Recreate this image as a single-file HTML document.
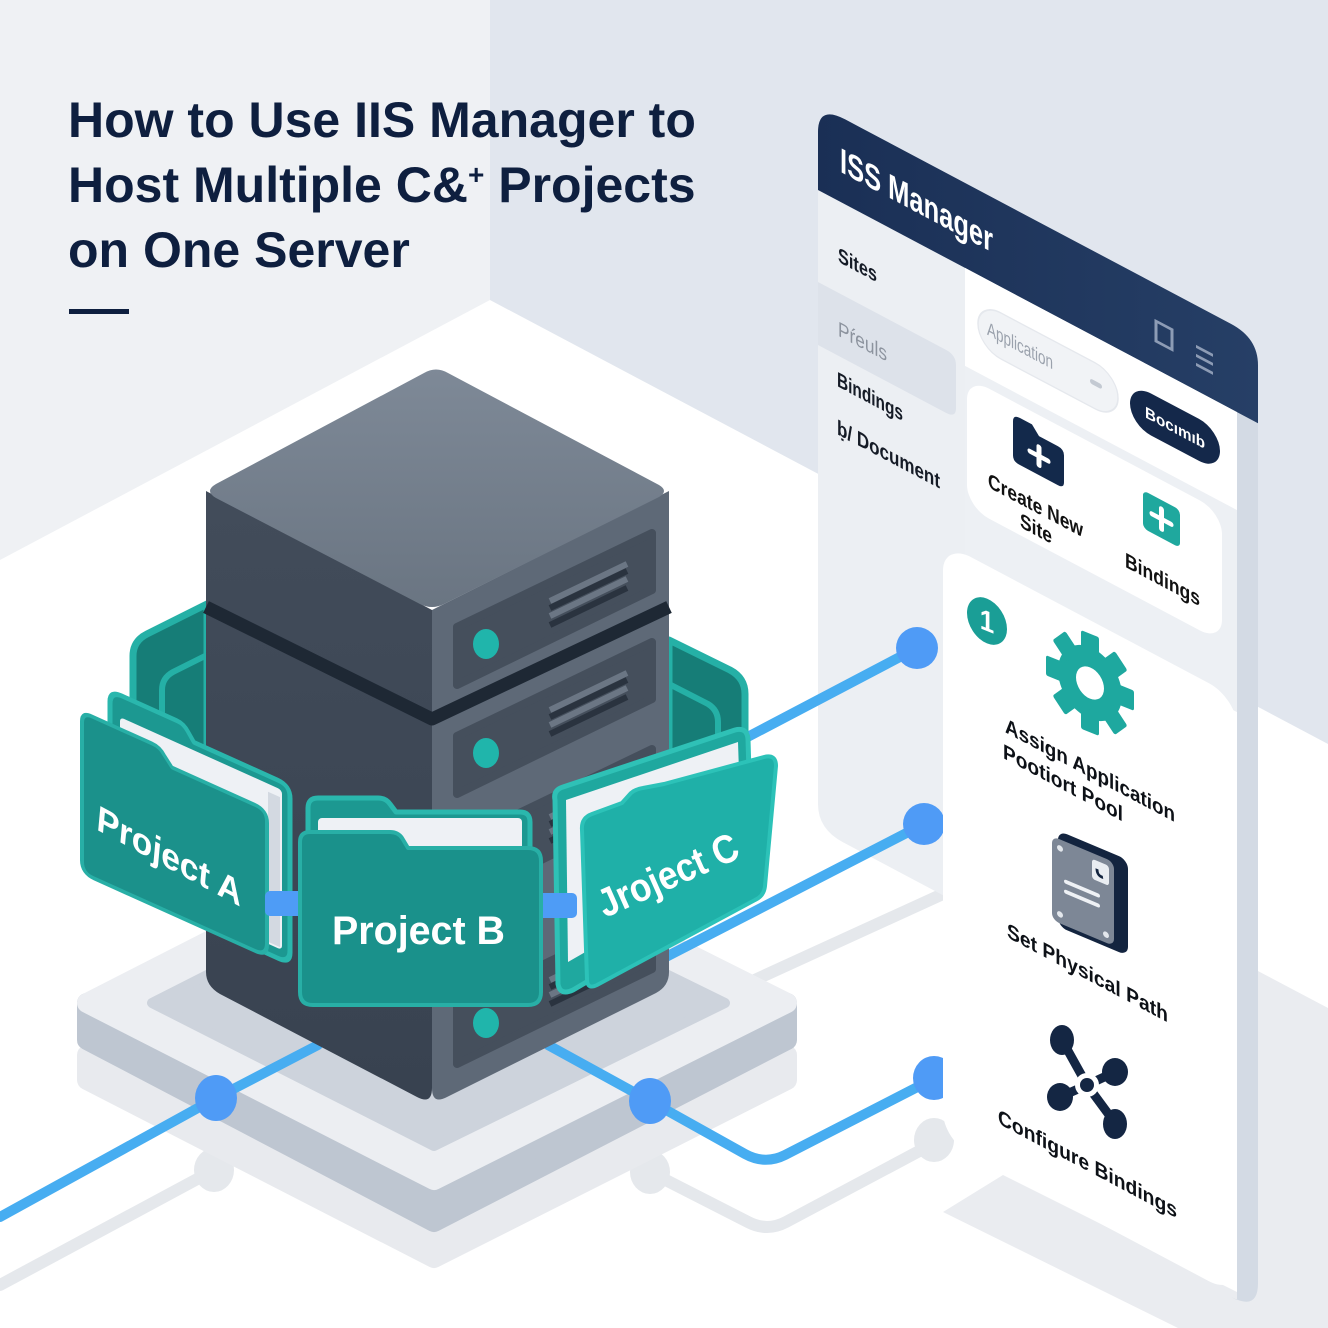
<!DOCTYPE html>
<html>
<head>
<meta charset="utf-8">
<style>
html,body{margin:0;padding:0;background:#fff;}
svg{display:block;}
</style>
</head>
<body>
<svg width="1328" height="1328" viewBox="0 0 1328 1328" xmlns="http://www.w3.org/2000/svg" font-family="'Liberation Sans', Arial, sans-serif">
<defs>
  <linearGradient id="hdr" x1="0" y1="0" x2="1" y2="0">
    <stop offset="0" stop-color="#1a2f55"/>
    <stop offset="1" stop-color="#263f66"/>
  </linearGradient>
  <linearGradient id="stop" x1="0" y1="0" x2="0" y2="1">
    <stop offset="0" stop-color="#7e8997"/>
    <stop offset="1" stop-color="#6a7582"/>
  </linearGradient>
  <linearGradient id="lface" x1="0" y1="0" x2="0" y2="1">
    <stop offset="0" stop-color="#424c5a"/>
    <stop offset="1" stop-color="#384250"/>
  </linearGradient>
</defs>

<!-- background walls & floor -->
<rect width="1328" height="1328" fill="#eff1f4"/>
<rect x="490" y="0" width="838" height="760" fill="#e1e6ee"/>
<polygon points="0,560 490,300 1328,744 1328,1328 0,1328" fill="#ffffff"/>
<!-- lower-right panel shadow -->
<polygon points="1237,960 1328,1008 1328,1328 1178,1328 943,1212 1003,1175 1237,1292" fill="#eaecf0"/>

<!-- line shadows -->
<g stroke="#e5e8ec" stroke-width="12" fill="none" stroke-linecap="round" stroke-linejoin="round">
  <path d="M0,1285 L214,1170 L330,1108"/>
  <path d="M560,1118 L650,1172 L748,1222 Q767,1232 786,1222 L940,1140"/>
  <path d="M700,1005 L945,893"/>
</g>
<g fill="#e5e8ec">
  <ellipse cx="214" cy="1170" rx="20" ry="22"/>
  <ellipse cx="650" cy="1172" rx="20" ry="22"/>
  <ellipse cx="934" cy="1140" rx="20" ry="22"/>
</g>

<!-- platform -->
<polygon points="87,1055 434,876 787,1055 787,1080 434,1258 87,1080" fill="#e8eaee" stroke="#e8eaee" stroke-width="20" stroke-linejoin="round"/>
<polygon points="87,1003 434,1182 787,1003 787,1040 434,1222 87,1040" fill="#bec6d1" stroke="#bec6d1" stroke-width="20" stroke-linejoin="round"/>
<polygon points="87,1003 434,826 787,1003 434,1180" fill="#eceef2" stroke="#eceef2" stroke-width="20" stroke-linejoin="round"/>
<polygon points="152,1003 434,860 725,1003 434,1146" fill="#cdd3dc" stroke="#cdd3dc" stroke-width="10" stroke-linejoin="round"/>

<!-- PANEL part 1 -->
<g transform="matrix(1,0.53,0,1,818,0)">
  <!-- header -->
  <path d="M0,132 Q0,105 27,105 L413,105 Q440,105 440,132 L440,192 L0,192 Z" fill="url(#hdr)"/>
  <text x="22" y="160" font-size="35" font-weight="bold" fill="#ffffff" textLength="153" lengthAdjust="spacingAndGlyphs">ISS Manager</text>
  <rect x="338" y="142" width="16" height="20" fill="none" stroke="#8d9cb5" stroke-width="3"/>
  <g stroke="#8d9cb5" stroke-width="3">
    <line x1="378" y1="146" x2="395" y2="146"/>
    <line x1="378" y1="155" x2="395" y2="155"/>
    <line x1="378" y1="164" x2="395" y2="164"/>
  </g>
  <!-- sidebar -->
  <path d="M0,190 L147,190 L147,829 L25,829 Q0,829 0,804 Z" fill="#eceff3"/>
  <path d="M0,282 L128,282 Q138,282 138,292 L138,335 Q138,345 128,345 L0,345 Z" fill="#dde2ea"/>
  <text x="20" y="251" font-size="21" font-weight="bold" fill="#151b26" textLength="39" lengthAdjust="spacingAndGlyphs">Sites</text>
  <text x="20" y="325" font-size="21" fill="#8c939e" textLength="49" lengthAdjust="spacingAndGlyphs">Pŕeuls</text>
  <text x="19" y="376" font-size="21" font-weight="bold" fill="#151b26" textLength="66" lengthAdjust="spacingAndGlyphs">Bindings</text>
  <text x="19" y="424" font-size="21" font-weight="bold" fill="#151b26" textLength="103" lengthAdjust="spacingAndGlyphs">ḅ/ Document</text>
  <!-- main area -->
  <rect x="147" y="190" width="272" height="300" fill="#edf0f4"/>
  <rect x="147" y="190" width="272" height="98" fill="#ffffff"/>
  <rect x="160" y="216" width="140" height="46" rx="23" fill="#f1f3f6" stroke="#e5e8ed" stroke-width="1.5"/>
  <text x="169" y="245" font-size="19" fill="#9aa1ac" textLength="66" lengthAdjust="spacingAndGlyphs">Application</text>
  <rect x="272" y="234" width="12" height="5" rx="2.5" fill="#c3c9d2"/>
  <rect x="312" y="217" width="90" height="42" rx="21" fill="#14284a"/>
  <text x="357" y="244" font-size="16" font-weight="bold" fill="#ffffff" text-anchor="middle" textLength="60" lengthAdjust="spacingAndGlyphs">Bocımıb</text>
  <!-- card 1 -->
  <rect x="149" y="298" width="255" height="130" rx="22" fill="#ffffff"/>
  <path d="M195,318 Q195,311 202,311 L214,311 L221,319 L240,319 Q246,319 246,325 L246,352 Q246,358 240,358 L201,358 Q195,358 195,352 Z" fill="#13294b"/>
  <g stroke="#ffffff" stroke-width="5" stroke-linecap="round">
    <line x1="212" y1="339" x2="230" y2="339"/>
    <line x1="221" y1="330" x2="221" y2="348"/>
  </g>
  <text x="170" y="397" font-size="21" font-weight="bold" fill="#111111" textLength="95" lengthAdjust="spacingAndGlyphs">Create New</text>
  <text x="202" y="420" font-size="21" font-weight="bold" fill="#111111" textLength="32" lengthAdjust="spacingAndGlyphs">Site</text>
  <rect x="325" y="318" width="37" height="38" rx="5" fill="#1fa89e"/>
  <g stroke="#ffffff" stroke-width="5" stroke-linecap="round">
    <line x1="334" y1="337" x2="353" y2="337"/>
    <line x1="343.5" y1="327" x2="343.5" y2="347"/>
  </g>
  <text x="307" y="404" font-size="21" font-weight="bold" fill="#111111" textLength="75" lengthAdjust="spacingAndGlyphs">Bindings</text>
</g>

<!-- blue lines -->
<g stroke="#47adf1" stroke-width="10" fill="none" stroke-linecap="round" stroke-linejoin="round">
  <path d="M0,1217 L216,1098 L318,1045"/>
  <path d="M548,1045 L650,1101 L745,1154 Q765,1165 785,1155 L935,1078"/>
  <path d="M700,762 L917,648"/>
  <path d="M660,960 L924,824"/>
</g>
<g fill="#4f9bf6">
  <ellipse cx="216" cy="1098" rx="21" ry="23"/>
  <ellipse cx="650" cy="1101" rx="21" ry="23"/>
  <ellipse cx="917" cy="648" rx="21" ry="21"/>
  <ellipse cx="924" cy="824" rx="21" ry="21"/>
  <ellipse cx="934" cy="1078" rx="21" ry="22"/>
</g>

<!-- PANEL part 2 -->
<g transform="matrix(1,0.53,0,1,818,0)">
  <path d="M419,190 L440,190 L440,1050 Q440,1078 413,1078 L419,1078 Z" fill="#d3dae4"/>
  <rect x="125" y="476" width="294" height="598" rx="28" fill="#ffffff"/>
  <text x="187" y="633" font-size="21" font-weight="bold" fill="#0d1117" textLength="170" lengthAdjust="spacingAndGlyphs">Assign Application</text>
  <text x="185" y="660" font-size="21" font-weight="bold" fill="#0d1117" textLength="120" lengthAdjust="spacingAndGlyphs">Pootiort  Pool</text>
  <text x="189" y="837" font-size="21" font-weight="bold" fill="#0d1117" textLength="161" lengthAdjust="spacingAndGlyphs">Set Physical Path</text>
  <text x="180" y="1028" font-size="21" font-weight="bold" fill="#0d1117" textLength="179" lengthAdjust="spacingAndGlyphs">Configure Bindings</text>
</g>

<!-- badge 1 -->
<g transform="translate(987,621) skewY(22) scale(1,1.12)">
  <circle cx="0" cy="0" r="20" fill="#1a9e96"/>
  <text x="0" y="9" font-size="26" font-weight="bold" fill="#ffffff" text-anchor="middle">1</text>
</g>

<!-- gear -->
<g transform="translate(1090,683) skewY(22) scale(1,1.12)" fill="#1ea89f">
  <circle cx="0" cy="0" r="32"/>
  <rect x="-9" y="-44" width="18" height="20" rx="2"/>
  <rect x="-9" y="-44" width="18" height="20" rx="2" transform="rotate(45)"/>
  <rect x="-9" y="-44" width="18" height="20" rx="2" transform="rotate(90)"/>
  <rect x="-9" y="-44" width="18" height="20" rx="2" transform="rotate(135)"/>
  <rect x="-9" y="-44" width="18" height="20" rx="2" transform="rotate(180)"/>
  <rect x="-9" y="-44" width="18" height="20" rx="2" transform="rotate(225)"/>
  <rect x="-9" y="-44" width="18" height="20" rx="2" transform="rotate(270)"/>
  <rect x="-9" y="-44" width="18" height="20" rx="2" transform="rotate(315)"/>
  <circle cx="0" cy="0" r="14" fill="#ffffff"/>
</g>

<!-- drive/doc icon -->
<g transform="matrix(1,0.42,0,1,1052,836)">
  <rect x="6" y="-8" width="70" height="96" rx="9" fill="#13243f"/>
  <rect x="0" y="0" width="62" height="84" rx="7" fill="#7d8796"/>
  <circle cx="8" cy="9" r="3" fill="#e3e7ec"/>
  <circle cx="8" cy="75" r="3" fill="#e3e7ec"/>
  <circle cx="54" cy="76" r="3" fill="#e3e7ec"/>
  <rect x="40" y="6" width="17" height="20" rx="3" fill="#e9edf2"/>
  <path d="M45,14 Q45,21 51,20" stroke="#13243f" stroke-width="3" fill="none"/>
  <line x1="14" y1="40" x2="46" y2="40" stroke="#eef1f5" stroke-width="4" stroke-linecap="round"/>
  <line x1="14" y1="50" x2="46" y2="50" stroke="#eef1f5" stroke-width="4" stroke-linecap="round"/>
</g>

<!-- network icon -->
<g fill="#142643" stroke="#142643">
  <g stroke-width="9" stroke-linecap="round">
    <line x1="1087" y1="1085" x2="1062" y2="1040"/>
    <line x1="1087" y1="1085" x2="1115" y2="1072"/>
    <line x1="1087" y1="1085" x2="1060" y2="1097"/>
    <line x1="1087" y1="1085" x2="1115" y2="1123"/>
  </g>
  <ellipse cx="1062" cy="1040" rx="12" ry="15" stroke="none"/>
  <ellipse cx="1115" cy="1072" rx="13" ry="14" stroke="none"/>
  <ellipse cx="1060" cy="1097" rx="13" ry="14" stroke="none"/>
  <ellipse cx="1115" cy="1124" rx="12" ry="15" stroke="none"/>
  <circle cx="1087" cy="1085" r="12" fill="#ffffff" stroke="none"/>
  <circle cx="1087" cy="1085" r="7" stroke="none"/>
</g>

<!-- back wraps -->
<path d="M133,764 L133,656 Q133,641 147,634 L207,604 L207,764 Z" fill="#167d77" stroke="#25b0a6" stroke-width="7" stroke-linejoin="round"/>
<path d="M162,764 L162,690 Q162,678 173,672 L207,655" stroke="#25b0a6" stroke-width="6" fill="none"/>
<path d="M669,640 L730,670 Q745,678 745,694 L745,766 L669,766 Z" fill="#167d77" stroke="#25b0a6" stroke-width="7" stroke-linejoin="round"/>
<path d="M669,684 L708,704 Q718,710 718,722 L718,766" stroke="#25b0a6" stroke-width="6" fill="none"/>

<!-- SERVER -->
<path d="M206,491 L432,610 L432,1088 Q432,1105 417,1097 L220,994 Q206,986 206,972 Z" fill="url(#lface)"/>
<path d="M432,610 L669,491 L669,972 Q669,986 656,993 L447,1097 Q432,1105 432,1088 Z" fill="#5e6977"/>
<path d="M216,484 L424,373 Q436,366 448,373 L659,485 Q669,491 659,497 L444,604 Q432,610 420,604 L216,498 Q204,491 216,484 Z" fill="url(#stop)"/>
<polyline points="206,607 432,719 669,607" fill="none" stroke="#1e2834" stroke-width="13" stroke-linejoin="round"/>

<!-- bays -->
<g>
  <polygon points="457,627 652,533 652,590 457,685" fill="#454f5c" stroke="#454f5c" stroke-width="8" stroke-linejoin="round"/>
  <polygon points="457,736 652,642 652,699 457,794" fill="#454f5c" stroke="#454f5c" stroke-width="8" stroke-linejoin="round"/>
  <polygon points="457,843 652,749 652,806 457,901" fill="#454f5c" stroke="#454f5c" stroke-width="8" stroke-linejoin="round"/>
  <polygon points="457,1006 652,912 652,969 457,1064" fill="#454f5c" stroke="#454f5c" stroke-width="8" stroke-linejoin="round"/>
</g>
<g stroke-width="6">
  <line x1="550" y1="601" x2="627" y2="564" stroke="#6b7684"/>
  <line x1="550" y1="608" x2="627" y2="571" stroke="#2a333f"/>
  <line x1="550" y1="616" x2="627" y2="579" stroke="#6b7684"/>
  <line x1="550" y1="625" x2="627" y2="588" stroke="#2a333f"/>

  <line x1="550" y1="710" x2="627" y2="673" stroke="#6b7684"/>
  <line x1="550" y1="717" x2="627" y2="680" stroke="#2a333f"/>
  <line x1="550" y1="725" x2="627" y2="688" stroke="#6b7684"/>
  <line x1="550" y1="734" x2="627" y2="697" stroke="#2a333f"/>

  <line x1="550" y1="817" x2="627" y2="780" stroke="#6b7684"/>
  <line x1="550" y1="824" x2="627" y2="787" stroke="#2a333f"/>
  <line x1="550" y1="832" x2="627" y2="795" stroke="#6b7684"/>
  <line x1="550" y1="841" x2="627" y2="804" stroke="#2a333f"/>

  <line x1="550" y1="980" x2="627" y2="943" stroke="#6b7684"/>
  <line x1="550" y1="987" x2="627" y2="950" stroke="#2a333f"/>
  <line x1="550" y1="995" x2="627" y2="958" stroke="#6b7684"/>
  <line x1="550" y1="1004" x2="627" y2="967" stroke="#2a333f"/>
</g>
<g fill="#20b5ab">
  <ellipse cx="486" cy="644" rx="13" ry="15"/>
  <ellipse cx="486" cy="753" rx="13" ry="15"/>
  <ellipse cx="486" cy="860" rx="13" ry="15"/>
  <ellipse cx="486" cy="1023" rx="13" ry="15"/>
</g>

<!-- PROJECT A -->
<g transform="matrix(1,0.45,0,1,82,718)">
  <path d="M28,-28 Q28,-40 40,-40 L95,-40 Q102,-40 106,-34 L112,-26 L196,-26 Q208,-26 208,-14 L208,140 Q208,152 196,152 L40,152 Q28,152 28,140 Z" fill="#1c9891" stroke="#2ab7ad" stroke-width="5" stroke-linejoin="round"/>
  <rect x="38" y="-18" width="162" height="160" rx="4" fill="#eef1f5"/>
  <rect x="186" y="-10" width="12" height="150" fill="#d3d9e1"/>
  <path d="M0,4 Q0,-6 10,-6 L70,-6 Q78,-6 82,0 L90,9 L173,9 Q185,9 185,21 L185,143 Q185,155 173,155 L12,155 Q0,155 0,143 Z" fill="#1b918b" stroke="#28afa6" stroke-width="4" stroke-linejoin="round"/>
  <text x="14" y="105" font-size="37" font-weight="bold" fill="#ffffff" textLength="145" lengthAdjust="spacingAndGlyphs" transform="rotate(5,14,105)">Project A</text>
</g>

<!-- PROJECT C -->
<path d="M555,800 Q553,790 563,787 L735,730 Q747,727 748,739 L752,875 Q752,887 741,891 L573,990 Q560,996 558,984 Z" fill="#1fa89f" stroke="#2fc1b6" stroke-width="5" stroke-linejoin="round"/>
<polygon points="566,800 738,742 742,862 568,962" fill="#eef1f5"/>
<path d="M582,830 Q581,818 592,814 L622,803 L631,793 Q636,789 643,788 L664,784 L764,757 Q776,754 776,766 L765,886 Q764,896 755,900 L597,985 Q587,990 587,979 Z" fill="#1fb0a8" stroke="#2cc2b8" stroke-width="4" stroke-linejoin="round"/>
<text x="605" y="918" font-size="40" font-weight="bold" fill="#ffffff" textLength="150" lengthAdjust="spacingAndGlyphs" transform="rotate(-24,605,918)">Jroject C</text>

<!-- connector bars -->
<rect x="265" y="891" width="38" height="25" rx="5" fill="#4e9cf6"/>
<rect x="537" y="893" width="40" height="25" rx="5" fill="#4e9cf6"/>

<!-- PROJECT B -->
<path d="M308,808 Q308,798 318,798 L378,798 Q386,798 390,804 L396,812 L520,812 Q530,812 530,822 L530,990 L308,990 Z" fill="#1c9891" stroke="#2ab7ad" stroke-width="5" stroke-linejoin="round"/>
<rect x="318" y="818" width="204" height="120" rx="4" fill="#eef1f5"/>
<path d="M300,842 Q300,832 310,832 L390,832 Q398,832 402,838 L408,848 L528,848 Q541,848 541,861 L541,992 Q541,1005 528,1005 L313,1005 Q300,1005 300,992 Z" fill="#1a918b" stroke="#28afa6" stroke-width="4" stroke-linejoin="round"/>
<text x="332" y="944" font-size="40" font-weight="bold" fill="#ffffff" textLength="173" lengthAdjust="spacingAndGlyphs">Project B</text>

<!-- TITLE -->
<g font-size="50" font-weight="bold" fill="#0e1f3f">
  <text x="68" y="137">How to Use IIS Manager to</text>
  <text x="68" y="202">Host Multiple C&amp;<tspan font-size="28" dy="-18">+</tspan><tspan dy="18"> Projects</tspan></text>
  <text x="68" y="267">on One Server</text>
</g>
<rect x="69" y="309" width="60" height="5" fill="#0e1f3f"/>
</svg>
</body>
</html>
